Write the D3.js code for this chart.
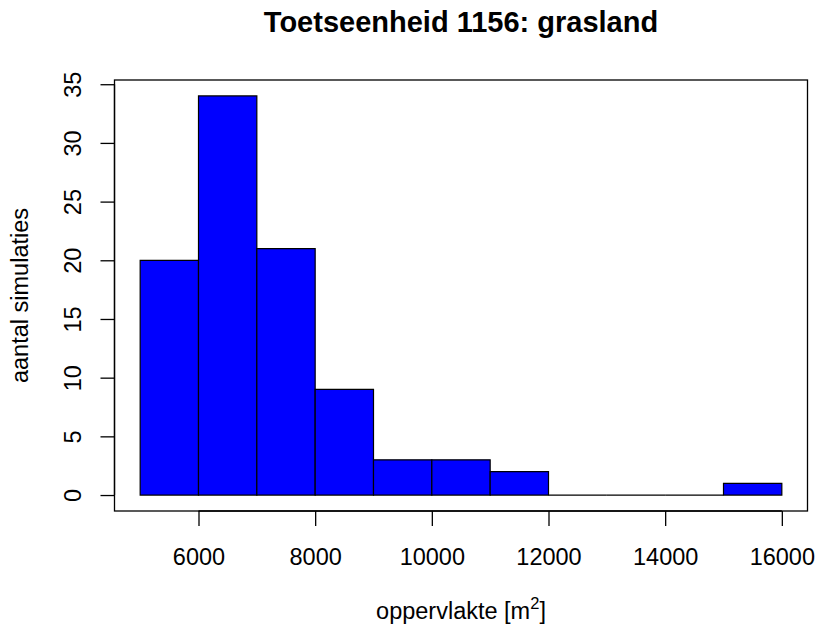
<!DOCTYPE html>
<html>
<head>
<meta charset="utf-8">
<script src="https://cdn.jsdelivr.net/npm/d3@7"></script>
<style>
  body { margin: 0; background: #fff; }
  text { font-family: "Liberation Sans", Arial, sans-serif; fill: #000; }
</style>
</head>
<body>
<script>
// histogram data
var breaks = [5000, 6000, 7000, 8000, 9000, 10000, 11000, 12000, 13000, 14000, 15000, 16000];
var counts = [20, 34, 21, 9, 3, 3, 2, 0, 0, 0, 1];
var xTicks = [6000, 8000, 10000, 12000, 14000, 16000];
var yTicks = [0, 5, 10, 15, 20, 25, 30, 35];
var titleText = "Toetseenheid 1156: grasland";
var yLabel = "aantal simulaties";

var W = 817, H = 630;
// plot box (R style, 4% extension on both axes)
var box = {left: 114.5, right: 807.5, top: 80, bottom: 511};

var xlo = breaks[0], xhi = breaks[breaks.length - 1];
var xpad = (xhi - xlo) * 0.04;
var ymax = d3.max(counts);
var ypad = ymax * 0.04;

var x = d3.scaleLinear().domain([xlo - xpad, xhi + xpad]).range([box.left, box.right]);
var y = d3.scaleLinear().domain([-ypad, ymax + ypad]).range([box.bottom, box.top]);

var svg = d3.select("body").append("svg")
    .attr("width", W)
    .attr("height", H);

// bars: drawn as closed paths so empty bins still show a line at 0
counts.forEach(function(c, i) {
  var p = d3.path();
  var x0 = x(breaks[i]), x1 = x(breaks[i + 1]), y0 = y(0), y1 = y(c);
  p.moveTo(x0, y0);
  p.lineTo(x1, y0);
  p.lineTo(x1, y1);
  p.lineTo(x0, y1);
  p.closePath();
  svg.append("path")
      .attr("d", p.toString())
      .attr("fill", "#0000ff")
      .attr("stroke", "#000")
      .attr("stroke-width", 1.2);
});

// box around plot
svg.append("rect")
    .attr("x", box.left)
    .attr("y", box.top)
    .attr("width", box.right - box.left)
    .attr("height", box.bottom - box.top)
    .attr("fill", "none")
    .attr("stroke", "#000")
    .attr("stroke-width", 1.3);

var fs = 23.5;

// x axis
var xAxis = d3.axisBottom(x).tickValues(xTicks).tickSize(15).tickSizeOuter(0).tickPadding(22)
    .tickFormat(d3.format("d"));
var gx = svg.append("g")
    .attr("transform", "translate(0," + box.bottom + ")")
    .call(xAxis);
gx.select(".domain")
    .attr("d", "M" + x(xTicks[0]) + ",0H" + x(xTicks[xTicks.length - 1]))
    .attr("stroke-width", 1.3);
gx.selectAll(".tick line").attr("stroke-width", 1.3);
gx.selectAll("text")
    .attr("font-size", fs)
    .attr("font-family", "Liberation Sans, Arial, sans-serif")
    .attr("fill", "#000");

// y axis, labels rotated like R's las=0
var yAxis = d3.axisLeft(y).tickValues(yTicks).tickSize(14).tickSizeOuter(0);
var gy = svg.append("g")
    .attr("transform", "translate(" + box.left + ",0)")
    .call(yAxis);
gy.select(".domain")
    .attr("d", "M0," + y(yTicks[0]) + "V" + y(yTicks[yTicks.length - 1]))
    .attr("stroke-width", 1.3);
gy.selectAll(".tick line").attr("stroke-width", 1.3);
gy.selectAll(".tick text")
    .attr("x", null).attr("dy", null)
    .attr("transform", "translate(-34,0) rotate(-90)")
    .attr("text-anchor", "middle")
    .attr("font-size", fs)
    .attr("font-family", "Liberation Sans, Arial, sans-serif")
    .attr("fill", "#000");

var cx = (box.left + box.right) / 2;
var cy = (box.top + box.bottom) / 2;

// title
svg.append("text")
    .attr("x", cx)
    .attr("y", 32)
    .attr("text-anchor", "middle")
    .attr("font-size", 29)
    .attr("font-weight", "bold")
    .text(titleText);

// x label with superscript
var xl = svg.append("text")
    .attr("x", cx)
    .attr("y", 619)
    .attr("text-anchor", "middle")
    .attr("font-size", fs);
xl.append("tspan").text("oppervlakte [m");
xl.append("tspan").attr("dy", -10).attr("font-size", 16.5).text("2");
xl.append("tspan").attr("dy", 10).text("]");

// y label
svg.append("text")
    .attr("transform", "translate(28," + cy + ") rotate(-90)")
    .attr("text-anchor", "middle")
    .attr("font-size", fs)
    .text(yLabel);
</script>
</body>
</html>
